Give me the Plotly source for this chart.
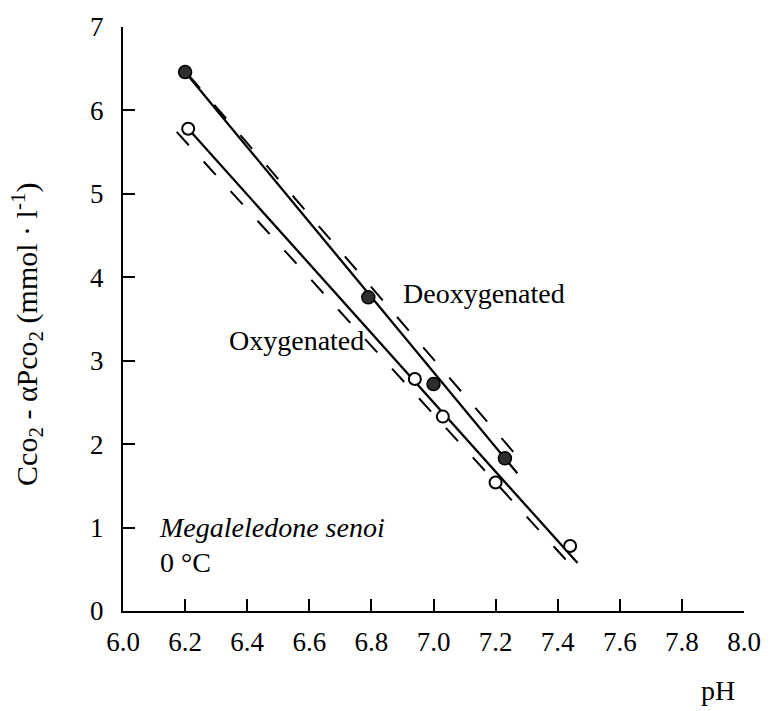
import plotly.graph_objects as go

# Measured points: blood CO2 content vs pH
deoxy_ph = [6.20, 6.79, 7.00, 7.23]
deoxy_c = [6.46, 3.76, 2.72, 1.83]
oxy_ph = [6.21, 6.94, 7.03, 7.20, 7.44]
oxy_c = [5.78, 2.78, 2.33, 1.54, 0.78]

# Regression lines (solid) and reference lines (dashed), given by end points
deoxy_fit_ph = [6.20, 7.27]
deoxy_fit_c = [6.46, 1.65]
oxy_fit_ph = [6.21, 7.464]
oxy_fit_c = [5.78, 0.575]
deoxy_ref_ph = [6.21, 7.285]
deoxy_ref_c = [6.43, 1.786]
oxy_ref_ph = [6.173, 7.443]
oxy_ref_c = [5.742, 0.546]

x_ticks = [6.0, 6.2, 6.4, 6.6, 6.8, 7.0, 7.2, 7.4, 7.6, 7.8, 8.0]
y_ticks = [0, 1, 2, 3, 4, 5, 6, 7]

FONT = "Liberation Serif, Times New Roman, serif"
DASH = "18px,22px"

fig = go.Figure()

for xs, ys in [(deoxy_ref_ph, deoxy_ref_c), (oxy_ref_ph, oxy_ref_c)]:
    fig.add_trace(go.Scatter(x=xs, y=ys, mode="lines",
                             line=dict(color="black", width=2, dash=DASH),
                             hoverinfo="skip"))
for xs, ys in [(deoxy_fit_ph, deoxy_fit_c), (oxy_fit_ph, oxy_fit_c)]:
    fig.add_trace(go.Scatter(x=xs, y=ys, mode="lines",
                             line=dict(color="black", width=2.3),
                             hoverinfo="skip"))

fig.add_trace(go.Scatter(x=deoxy_ph, y=deoxy_c, mode="markers", name="Deoxygenated",
                         marker=dict(symbol="circle", size=13, color="#2e2e2e",
                                     line=dict(color="black", width=1.5))))
fig.add_trace(go.Scatter(x=oxy_ph, y=oxy_c, mode="markers", name="Oxygenated",
                         marker=dict(symbol="circle", size=12, color="white",
                                     line=dict(color="black", width=2))))

axis_common = dict(
    showline=True, linecolor="black", linewidth=2,
    ticks="inside", ticklen=12, tickwidth=2, tickcolor="black",
    showgrid=False, zeroline=False,
    tickfont=dict(family=FONT, size=27, color="black"),
)

fig.update_xaxes(range=[6.0, 8.0], tickvals=x_ticks,
                 ticktext=[f"{v:.1f}" for v in x_ticks],
                 ticklabelstandoff=6, **axis_common)
fig.update_yaxes(range=[0, 7], tickvals=y_ticks,
                 ticktext=[str(v) for v in y_ticks],
                 ticklabelstandoff=12, **axis_common)

text_font = dict(family=FONT, size=28, color="black")
fig.add_annotation(x=6.896, y=3.80, text="Deoxygenated", showarrow=False,
                   xanchor="left", yanchor="middle", font=text_font)
fig.add_annotation(x=6.336, y=3.24, text="Oxygenated", showarrow=False,
                   xanchor="left", yanchor="middle", font=text_font)
fig.add_annotation(x=6.109, y=1.00, text="<i>Megaleledone senoi</i>", showarrow=False,
                   xanchor="left", yanchor="middle", font=text_font)
fig.add_annotation(x=6.112, y=0.578, text="0 °C", showarrow=False,
                   xanchor="left", yanchor="middle", font=text_font)

# Axis titles
fig.add_annotation(xref="paper", yref="paper", x=0.958, y=-0.136, text="pH",
                   showarrow=False, xanchor="center", yanchor="middle", font=text_font)
fig.add_annotation(xref="paper", yref="paper", x=-0.155, y=0.474,
                   text="Cco<sub>2</sub> - αPco<sub>2</sub> (mmol\u00a0·\u00a0l<sup>-1</sup>)",
                   textangle=-90, showarrow=False, xanchor="center", yanchor="middle",
                   font=dict(family=FONT, size=30, color="black"))

fig.update_layout(
    width=773, height=711,
    margin=dict(l=123, r=17, t=24, b=100),
    plot_bgcolor="white", paper_bgcolor="white",
    showlegend=False,
)

fig.write_html("out.html")
